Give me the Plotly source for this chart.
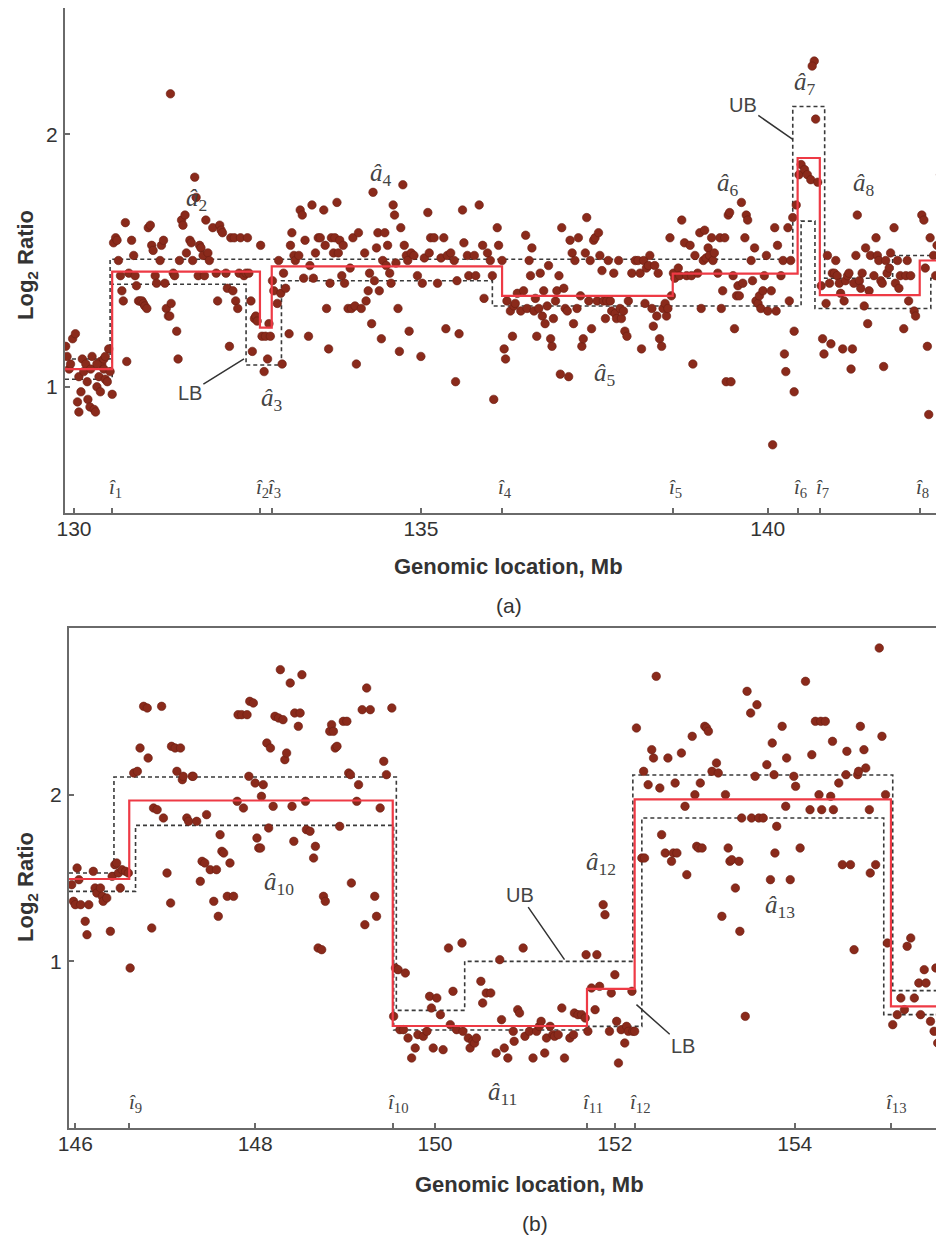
import plotly.graph_objects as go

# ---------------- Panel (a) measured points: (genomic location Mb, log2 ratio) ----------------
a_seg1 = [(129.88,1.16),(129.90,1.12),(129.93,1.07),(129.95,1.09),(129.98,1.19),(130.02,1.21),(130.05,0.94),
          (130.07,0.90),(130.07,1.04),(130.10,0.98),(130.12,1.11),(130.14,1.06),(130.17,1.09),(130.19,1.02),
          (130.20,0.95),(130.23,0.92),(130.24,1.07),(130.26,1.12),(130.29,0.91),(130.31,0.90),(130.33,1.00),
          (130.36,1.04),(130.38,1.10),(130.40,1.09),(130.43,1.07),(130.45,1.03),(130.48,1.02),(130.50,1.15),
          (130.52,1.06),(130.55,0.97),(130.43,1.11),(130.33,1.09),(130.38,0.98),(130.45,1.12)]
a_seg2 = [(130.57,1.57),(130.60,1.59),(130.62,1.58),(130.64,1.50),(130.67,1.44),(130.69,1.38),(130.71,1.34),
          (130.74,1.65),(130.76,1.10),(130.79,1.45),(130.83,1.58),(130.86,1.52),(130.88,1.44),(130.90,1.40),
          (130.93,1.34),(130.95,1.34),(130.98,1.34),(131.00,1.33),(131.02,1.32),(131.05,1.31),(131.07,1.63),
          (131.10,1.64),(131.12,1.56),(131.14,1.54),(131.17,1.44),(131.19,1.41),(131.24,1.50),(131.26,1.56),
          (131.29,1.58),(131.31,1.41),(131.33,1.31),(131.36,1.28),(131.38,1.28),(131.40,1.33),(131.43,1.45),
          (131.45,1.44),(131.48,1.22),(131.50,1.11),(131.52,1.50),(131.55,1.66),(131.57,1.64),(131.60,1.68),
          (131.62,1.53),(131.67,1.58),(131.69,1.57),(131.71,1.50),(131.74,1.83),(131.76,1.75),(131.79,1.44),
          (131.81,1.56),(131.83,1.55),(131.86,1.52),(131.88,1.44),(131.90,1.66),(131.93,1.53),(131.95,1.50),
          (132.00,1.63),(132.05,1.45),(132.07,1.34),(132.10,1.64),(132.12,1.62),(132.14,1.61),(132.19,1.45),
          (132.21,1.39),(132.24,1.16),(132.26,1.59),(132.29,1.38),(132.31,1.59),(132.33,1.34),(132.36,1.31),
          (132.38,1.45),(132.40,1.59),(132.45,1.44),(132.48,1.45),(132.50,1.59),(132.52,1.45),(132.55,1.34),
          (132.57,1.14),(132.60,1.27),(132.62,1.28),(131.39,2.16)]
a_seg3 = [(132.64,1.26),(132.69,1.56),(132.71,1.20),(132.74,1.06),(132.76,1.20),(132.79,1.11),(132.81,1.25),
          (132.83,1.20)]
a_seg4 = [(132.86,1.42),(132.88,1.38),(132.93,1.33),(132.95,1.50),(132.98,1.37),(133.00,1.09),(133.02,1.45),
          (133.05,1.39),(133.10,1.21),(133.12,1.56),(133.14,1.61),(133.17,1.52),(133.19,1.50),(133.24,1.52),
          (133.26,1.70),(133.29,1.68),(133.31,1.43),(133.33,1.58),(133.38,1.20),(133.40,1.48),(133.43,1.72),
          (133.45,1.43),(133.48,1.53),(133.52,1.59),(133.55,1.59),(133.60,1.70),(133.62,1.56),(133.64,1.31),
          (133.67,1.15),(133.69,1.41),(133.71,1.59),(133.74,1.53),(133.76,1.59),(133.79,1.73),(133.81,1.53),
          (133.83,1.58),(133.86,1.44),(133.88,1.56),(133.90,1.41),(133.95,1.31),(133.98,1.47),(134.00,1.31),
          (134.02,1.59),(134.05,1.32),(134.07,1.09),(134.10,1.61),(134.14,1.31),(134.19,1.53),(134.21,1.34),
          (134.24,1.38),(134.26,1.45),(134.29,1.25),(134.31,1.77),(134.33,1.42),(134.36,1.55),(134.38,1.61),
          (134.40,1.38),(134.43,1.19),(134.45,1.50),(134.48,1.61),(134.50,1.48),(134.52,1.56),(134.55,1.45),
          (134.57,1.41),(134.60,1.72),(134.62,1.68),(134.64,1.49),(134.67,1.31),(134.69,1.14),(134.71,1.63),
          (134.74,1.80),(134.76,1.56),(134.79,1.52),(134.81,1.50),(134.83,1.22),(134.86,1.53),(134.90,1.52),
          (134.95,1.44),(135.00,1.12),(135.02,1.41),(135.05,1.51),(135.10,1.69),(135.12,1.53),(135.14,1.59),
          (135.19,1.59),(135.24,1.41),(135.29,1.51),(135.33,1.59),(135.36,1.23),(135.38,1.52),(135.43,1.53),
          (135.48,1.50),(135.50,1.02),(135.52,1.42),(135.55,1.21),(135.60,1.70),(135.62,1.57),(135.67,1.52),
          (135.69,1.44),(135.77,1.52),(135.79,1.44),(135.84,1.72),(135.89,1.56),(135.91,1.35),(135.96,1.53),
          (136.00,1.50),(136.03,1.44),(136.05,0.95),(136.10,1.63),(136.12,1.56),(136.17,1.50)]
a_seg5 = [(136.20,1.15),(136.22,1.11),(136.24,1.34),(136.29,1.30),(136.32,1.20),(136.34,1.32),(136.36,1.33),
          (136.39,1.37),(136.44,1.30),(136.48,1.38),(136.51,1.60),(136.53,1.31),(136.56,1.50),(136.58,1.44),
          (136.60,1.55),(136.63,1.30),(136.65,1.35),(136.67,1.20),(136.70,1.31),(136.72,1.45),(136.75,1.28),
          (136.77,1.38),(136.79,1.25),(136.82,1.32),(136.84,1.48),(136.87,1.19),(136.89,1.16),(136.91,1.27),
          (136.94,1.34),(136.96,1.38),(136.99,1.44),(137.01,1.05),(137.03,1.63),(137.06,1.39),(137.08,1.31),
          (137.11,1.30),(137.13,1.04),(137.15,1.58),(137.18,1.53),(137.20,1.25),(137.22,1.50),(137.25,1.31),
          (137.27,1.59),(137.30,1.36),(137.32,1.16),(137.34,1.19),(137.37,1.53),(137.39,1.67),(137.42,1.34),
          (137.44,1.50),(137.46,1.23),(137.49,1.58),(137.51,1.59),(137.54,1.34),(137.56,1.61),(137.58,1.52),
          (137.61,1.46),(137.63,1.34),(137.66,1.27),(137.68,1.34),(137.70,1.50),(137.73,1.34),(137.75,1.30),
          (137.78,1.45),(137.80,1.29),(137.82,1.27),(137.85,1.50),(137.87,1.31),(137.89,1.27),(137.92,1.30),
          (137.94,1.22),(137.97,1.20),(137.99,1.34),(138.04,1.45),(138.09,1.50),(138.13,1.50),(138.16,1.45),
          (138.18,1.15),(138.21,1.50),(138.23,1.33),(138.25,1.47),(138.28,1.48),(138.30,1.52),(138.33,1.31),
          (138.35,1.24),(138.37,1.48),(138.40,1.28),(138.42,1.45),(138.44,1.19),(138.47,1.16),(138.49,1.31),
          (138.52,1.33),(138.54,1.28),(138.56,1.31),(138.59,1.59),(138.61,1.36)]
a_seg6 = [(138.64,1.45),(138.66,1.43),(138.71,1.47),(138.73,1.44),(138.76,1.66),(138.80,1.57),(138.83,1.44),
          (138.88,1.56),(138.90,1.44),(138.92,1.09),(138.95,1.52),(138.99,1.45),(139.02,1.61),(139.04,1.31),
          (139.07,1.50),(139.09,1.62),(139.11,1.51),(139.14,1.55),(139.16,1.52),(139.19,1.59),(139.21,1.50),
          (139.23,1.53),(139.28,1.45),(139.31,1.59),(139.33,1.31),(139.35,1.38),(139.38,1.59),(139.40,1.02),
          (139.43,1.68),(139.45,1.69),(139.47,1.02),(139.50,1.44),(139.52,1.23),(139.55,1.36),(139.57,1.40),
          (139.59,1.36),(139.62,1.73),(139.64,1.41),(139.67,1.59),(139.69,1.68),(139.71,1.66),(139.76,1.50),
          (139.78,1.42),(139.81,1.55),(139.83,1.34),(139.86,1.33),(139.88,1.36),(139.90,1.31),(139.93,1.38),
          (139.95,1.44),(139.98,1.52),(140.00,1.30),(140.05,1.38),(140.07,0.77),(140.10,1.63),(140.12,1.30),
          (140.14,1.56),(140.19,1.44),(140.22,1.50),(140.24,1.13),(140.26,1.06),(140.29,1.63),(140.31,1.34),
          (140.33,1.50),(140.36,1.67),(140.38,0.98),(140.38,1.22),(140.41,1.72)]
a_seg7 = [(140.45,1.84),(140.48,1.88),(140.53,1.86),(140.57,1.84),(140.62,1.82),(140.69,2.06),(140.67,2.29),
          (140.64,2.27),(140.72,1.81)]
a_seg8 = [(140.77,1.40),(140.79,1.19),(140.81,1.13),(140.84,1.33),(140.86,1.52),(140.89,1.41),(140.91,1.17),
          (140.93,1.45),(140.96,1.45),(140.98,1.50),(141.00,1.44),(141.03,1.41),(141.05,1.37),(141.08,1.15),
          (141.10,1.34),(141.12,1.42),(141.15,1.44),(141.17,1.45),(141.20,1.07),(141.22,1.15),(141.24,1.41),
          (141.27,1.52),(141.29,1.68),(141.32,1.42),(141.34,1.39),(141.36,1.45),(141.39,1.32),(141.41,1.55),
          (141.44,1.25),(141.46,1.38),(141.48,1.52),(141.53,1.44),(141.56,1.59),(141.58,1.52),(141.60,1.50),
          (141.63,1.42),(141.65,1.41),(141.67,1.08),(141.70,1.50),(141.72,1.45),(141.75,1.47),(141.77,1.53),
          (141.82,1.63),(141.84,1.41),(141.87,1.50),(141.89,1.39),(141.91,1.44),(141.96,1.23),(141.99,1.44),
          (142.01,1.50),(142.03,1.34),(142.06,1.44),(142.11,1.30),(142.13,1.28)]
a_seg9 = [(142.22,1.68),(142.25,1.66),(142.27,1.47),(142.30,1.16),(142.32,0.89),(142.34,1.59),(142.39,1.52),
          (142.42,1.44),(142.44,1.56),(142.49,1.84),(142.51,1.66)]

# segment means (red) and confidence bounds (dotted), panel (a)
a_edges = [129.87, 130.55, 132.68, 132.85, 136.17, 138.63, 140.43, 140.75, 142.19, 142.54]
a_levels = [1.07, 1.456, 1.234, 1.477, 1.36, 1.448, 1.906, 1.3625, 1.50]
a_ub_edges = [129.87, 130.52, 140.36, 140.82, 141.80, 142.54]
a_ub_levels = [1.11, 1.505, 2.11, 1.43, 1.52]
a_lb_edges = [129.87, 130.55, 132.48, 132.99, 136.03, 140.48, 140.68, 142.35, 142.54]
a_lb_levels = [1.03, 1.406, 1.086, 1.42, 1.32, 1.656, 1.31, 1.43]
a_breaks = [130.55, 132.68, 132.85, 136.17, 138.63, 140.43, 140.75, 142.19]
a_break_names = ["1", "2", "3", "4", "5", "6", "7", "8"]
a_hat_names = ["2", "3", "4", "5", "6", "7", "8"]
a_hat_x = [131.76, 132.86, 134.43, 137.66, 139.43, 140.53, 141.39]
a_hat_y = [1.74, 0.95, 1.84, 1.05, 1.80, 2.20, 1.80]

# ---------------- Panel (b) ----------------
b_seg9 = [(145.96,1.46),(145.98,1.36),(146.00,1.34),(146.02,1.56),(146.04,1.49),(146.06,1.34),(146.11,1.24),
          (146.13,1.16),(146.15,1.34),(146.20,1.54),(146.22,1.44),(146.24,1.41),(146.28,1.44),(146.30,1.39),
          (146.31,1.36),(146.35,1.38),(146.39,1.18),(146.41,1.51),(146.44,1.58),(146.46,1.59),(146.48,1.53),
          (146.50,1.44),(146.52,1.55),(146.56,1.54),(146.59,1.53),(146.61,0.96)]
b_seg10 = [(146.65,2.13),(146.69,2.14),(146.72,2.28),(146.76,2.53),(146.80,2.52),(146.81,2.22),(146.85,1.20),
           (146.87,1.92),(146.91,1.91),(146.96,2.53),(146.98,1.86),(147.02,1.53),(147.06,1.35),(147.07,2.29),
           (147.11,2.28),(147.13,2.14),(147.17,2.28),(147.19,2.09),(147.20,2.11),(147.24,1.86),(147.26,1.84),
           (147.30,2.11),(147.31,2.11),(147.35,1.84),(147.39,1.48),(147.41,1.60),(147.44,1.59),(147.46,1.88),
           (147.50,1.55),(147.54,1.36),(147.57,1.55),(147.59,1.27),(147.61,1.76),(147.63,1.66),(147.65,1.65),
           (147.69,1.39),(147.72,1.59),(147.76,1.39),(147.80,1.96),(147.81,2.48),(147.85,2.48),(147.87,1.92),
           (147.91,2.48),(147.93,2.11),(147.94,2.56),(147.98,2.55),(148.00,2.07),(148.02,1.74),(148.04,1.68),
           (148.06,1.68),(148.07,1.99),(148.09,2.06),(148.13,2.31),(148.15,1.80),(148.17,2.28),(148.20,1.93),
           (148.22,2.47),(148.26,2.46),(148.28,2.75),(148.31,2.45),(148.33,2.21),(148.35,2.25),(148.39,2.67),
           (148.41,1.93),(148.43,1.72),(148.44,2.49),(148.48,2.41),(148.50,2.49),(148.52,2.72),(148.56,1.96),
           (148.57,1.79),(148.61,1.78),(148.65,1.62),(148.67,1.69),(148.70,1.08),(148.74,1.07),(148.76,1.39),
           (148.78,1.36),(148.83,2.38),(148.85,2.42),(148.87,2.38),(148.89,2.28),(148.91,2.29),(148.94,1.81),
           (148.98,2.44),(149.02,2.44),(149.04,2.13),(149.06,2.12),(149.07,1.47),(149.13,1.96),(149.15,2.06),
           (149.19,2.51),(149.22,1.22),(149.24,2.64),(149.28,2.51),(149.33,1.39),(149.35,1.27),(149.39,1.92),
           (149.43,2.20),(149.46,2.12),(149.52,2.52)]
b_seg11 = [(149.54,0.67),(149.56,0.96),(149.59,0.95),(149.61,0.59),(149.65,0.59),(149.67,0.93),(149.70,0.54),
           (149.74,0.42),(149.78,0.48),(149.81,0.56),(149.87,0.55),(149.91,0.58),(149.94,0.79),(149.96,0.72),
           (149.98,0.48),(150.02,0.78),(150.06,0.68),(150.09,0.47),(150.15,1.08),(150.17,0.62),(150.20,0.82),
           (150.24,0.59),(150.30,1.11),(150.31,0.58),(150.37,0.54),(150.39,0.48),(150.42,0.52),(150.44,0.51),
           (150.46,0.54),(150.51,0.88),(150.53,0.75),(150.57,0.81),(150.62,0.81),(150.68,0.45),(150.72,1.01),
           (150.74,0.65),(150.77,0.48),(150.81,0.42),(150.87,0.58),(150.88,0.52),(150.92,0.71),(150.94,0.69),
           (150.98,1.08),(151.00,0.55),(151.05,0.58),(151.09,0.42),(151.13,0.58),(151.16,0.61),(151.18,0.64),
           (151.22,0.45),(151.24,0.54),(151.28,0.61),(151.31,0.56),(151.33,0.55),(151.37,0.56),(151.41,0.72),
           (151.44,0.42),(151.50,0.54),(151.54,0.56),(151.55,0.69),(151.59,0.68),(151.63,0.68),(151.67,0.66)]
b_seg12 = [(151.68,1.04),(151.70,0.58),(151.74,0.84),(151.78,0.71),(151.80,1.04),(151.83,0.85),(151.87,1.34),
           (151.89,1.28),(151.94,0.58),(151.96,0.81),(152.00,0.92),(152.02,0.64),(152.04,0.39),(152.07,0.59),
           (152.11,0.51),(152.13,0.61),(152.15,0.58),(152.19,0.82),(152.20,0.58),(152.22,0.58)]
b_seg13 = [(152.24,2.40),(152.30,1.62),(152.32,2.14),(152.33,1.62),(152.37,2.06),(152.41,2.27),(152.43,2.22),
           (152.46,2.71),(152.50,2.04),(152.52,1.76),(152.56,1.65),(152.59,2.22),(152.63,1.60),(152.65,1.65),
           (152.67,2.07),(152.69,1.65),(152.74,2.25),(152.78,1.93),(152.80,1.52),(152.86,2.35),(152.89,2.00),
           (152.91,1.69),(152.93,1.68),(152.95,2.07),(152.97,1.68),(153.00,2.41),(153.02,2.40),(153.04,2.38),
           (153.08,2.14),(153.13,2.19),(153.15,2.13),(153.19,1.27),(153.23,2.00),(153.26,1.68),(153.28,1.60),
           (153.30,1.61),(153.34,1.44),(153.38,1.60),(153.39,1.18),(153.41,1.86),(153.45,0.67),(153.47,2.62),
           (153.51,2.49),(153.52,1.86),(153.56,2.11),(153.58,2.54),(153.60,1.86),(153.65,1.86),(153.69,2.18),
           (153.73,1.49),(153.75,2.31),(153.77,2.12),(153.78,1.65),(153.80,1.81),(153.86,2.41),(153.90,1.93),
           (153.91,2.22),(153.95,1.49),(153.99,2.11),(154.01,2.05),(154.06,1.68),(154.12,2.68),(154.17,1.91),
           (154.19,2.24),(154.23,2.44),(154.27,2.00),(154.29,2.44),(154.30,1.91),(154.34,2.44),(154.40,1.99),
           (154.42,2.32),(154.43,1.91),(154.49,2.07),(154.53,1.58),(154.57,2.12),(154.58,2.26),(154.62,1.58),
           (154.66,1.07),(154.70,2.12),(154.71,2.14),(154.73,2.41),(154.77,2.27),(154.79,2.16),(154.83,1.91),
           (154.84,1.53),(154.90,1.58),(154.94,2.88),(154.97,2.35),(155.01,2.00)]
b_seg14 = [(155.03,1.11),(155.09,0.62),(155.14,0.68),(155.18,0.78),(155.22,0.71),(155.25,1.09),(155.29,1.14),
           (155.33,0.78),(155.38,0.87),(155.40,0.68),(155.44,0.95),(155.46,0.87),(155.51,0.64),(155.55,0.58),
           (155.57,0.96),(155.59,0.51),(155.62,0.68),(155.64,0.62),(155.66,0.72)]

b_edges = [145.93, 146.60, 149.53, 151.69, 152.22, 155.07, 155.70]
b_levels = [1.494, 1.965, 0.612, 0.835, 1.972, 0.73]
b_ub_edges = [145.93, 146.43, 149.57, 150.33, 152.20, 155.09, 155.70]
b_ub_levels = [1.53, 2.106, 0.706, 1.00, 2.118, 0.824]
b_lb_edges = [145.93, 146.67, 149.54, 151.67, 152.30, 154.99, 155.70]
b_lb_levels = [1.42, 1.816, 0.588, 0.61, 1.86, 0.68]
b_breaks = [146.60, 149.53, 151.69, 152.22, 155.07]
b_break_names = ["9", "10", "11", "12", "13"]
b_hat_names = ["10", "11", "12", "13"]
b_hat_x = [148.26, 150.75, 151.85, 153.84]
b_hat_y = [1.47, 0.21, 1.59, 1.33]

DOT = "#8a2a1b"
RED = "#ee3a45"
BND = "#3a3a3a"
AX = "#6a6a6a"

fig = go.Figure()


def add_panel(segs, edges, levels, ub_e, ub_l, lb_e, lb_l, xa, ya):
    for e, l in ((ub_e, ub_l), (lb_e, lb_l)):
        fig.add_trace(go.Scatter(x=e, y=l + [l[-1]], mode="lines", line_shape="hv",
                                 line=dict(color=BND, width=1.6, dash="4px,3px"),
                                 xaxis=xa, yaxis=ya, showlegend=False, hoverinfo="skip"))
    xs, ys = [], []
    for s in segs:
        xs += [p[0] for p in s]
        ys += [p[1] for p in s]
    fig.add_trace(go.Scatter(x=xs, y=ys, mode="markers",
                             marker=dict(size=8.5, color=DOT, line=dict(width=0.6, color="#6b1e12")),
                             xaxis=xa, yaxis=ya, showlegend=False))
    fig.add_trace(go.Scatter(x=edges, y=levels + [levels[-1]], mode="lines", line_shape="hv",
                             line=dict(color=RED, width=2.2), xaxis=xa, yaxis=ya, showlegend=False))


add_panel([a_seg1, a_seg2, a_seg3, a_seg4, a_seg5, a_seg6, a_seg7, a_seg8, a_seg9],
          a_edges, a_levels, a_ub_edges, a_ub_levels, a_lb_edges, a_lb_levels, "x", "y")
add_panel([b_seg9, b_seg10, b_seg11, b_seg12, b_seg13, b_seg14],
          b_edges, b_levels, b_ub_edges, b_ub_levels, b_lb_edges, b_lb_levels, "x2", "y2")

# the page body adds an 8 px margin; the figure is sized so it ends at the window edge
OFF = 8
W, H = 944 - OFF, 1241 - OFF


def px(v):
    return (v - OFF) / W


def py(v):
    return 1 - (v - OFF) / H


tickfont = dict(family="Liberation Sans, Arial, sans-serif", size=21, color="#333")
common = dict(showline=True, linecolor=AX, linewidth=2, ticks="inside", ticklen=5, tickwidth=1.5,
              tickcolor=AX, showgrid=False, zeroline=False, tickfont=tickfont, automargin=False)
minor_style = dict(ticks="inside", ticklen=5, tickwidth=1.5, tickcolor=AX, showgrid=False)

a_main = [130, 135, 140]
b_main = [146, 148, 150, 152, 154]
fig.update_layout(
    width=W, height=H, margin=dict(l=0, r=0, t=0, b=0, autoexpand=False),
    paper_bgcolor="white", plot_bgcolor="white",
    xaxis=dict(domain=[px(65), 1], range=[129.87, 142.54], mirror=True, ticklabelstandoff=-4,
               tickvals=a_main, minor=dict(tickvals=a_breaks, **minor_style), anchor="y", **common),
    yaxis=dict(domain=[py(513), py(8)], range=[0.5, 2.5], tickvals=[1, 2], anchor="x",
               ticklabelstandoff=1, **common),
    xaxis2=dict(domain=[px(69), 1], range=[145.93, 155.66], mirror=True, ticklabelstandoff=-4,
                tickvals=b_main, minor=dict(tickvals=b_breaks, **minor_style), anchor="y2", **common),
    yaxis2=dict(domain=[py(1128), py(628)], range=[0, 3], tickvals=[1, 2], anchor="x2",
                ticklabelstandoff=1, **common),
)

serif = dict(family="Liberation Serif, DejaVu Serif, serif", size=25, color="#444")
serif_i = dict(family="Liberation Serif, DejaVu Serif, serif", size=21, color="#444")
C = dict(xanchor="center", yanchor="middle", showarrow=False)
ann = []
for bx, nm in zip(a_breaks, a_break_names):
    ann.append(dict(x=bx, y=0.6, xref="x", yref="y", text="<i>î</i><sub>%s</sub>" % nm,
                    font=serif_i, xshift=3, **C))
for hx, hy, nm in zip(a_hat_x, a_hat_y, a_hat_names):
    ann.append(dict(x=hx, y=hy, xref="x", yref="y", text="<i>â</i><sub>%s</sub>" % nm, font=serif, **C))
for bx, nm in zip(b_breaks, b_break_names):
    ann.append(dict(x=bx, y=0.15, xref="x2", yref="y2", text="<i>î</i><sub>%s</sub>" % nm,
                    font=serif_i, xshift=6, **C))
for hx, hy, nm in zip(b_hat_x, b_hat_y, b_hat_names):
    ann.append(dict(x=hx, y=hy, xref="x2", yref="y2", text="<i>â</i><sub>%s</sub>" % nm, font=serif, **C))

lbl = dict(family="Liberation Sans, Arial, sans-serif", size=20, color="#444")
# LB / UB callouts
ann.append(dict(x=132.45, y=1.11, xref="x", yref="y", ax=131.67, ay=0.977, axref="x", ayref="y",
                text="LB", showarrow=True, arrowhead=0, arrowwidth=1.5, arrowcolor="#333", font=lbl))
ann.append(dict(x=140.36, y=1.98, xref="x", yref="y", ax=139.64, ay=2.117, axref="x", ayref="y",
                text="UB", showarrow=True, arrowhead=0, arrowwidth=1.5, arrowcolor="#333", font=lbl))
ann.append(dict(x=151.44, y=1.01, xref="x2", yref="y2", ax=150.94, ay=1.40, axref="x2", ayref="y2",
                text="UB", showarrow=True, arrowhead=0, arrowwidth=1.5, arrowcolor="#333", font=lbl))
ann.append(dict(x=152.24, y=0.74, xref="x2", yref="y2", ax=152.76, ay=0.49, axref="x2", ayref="y2",
                text="LB", showarrow=True, arrowhead=0, arrowwidth=1.5, arrowcolor="#333", font=lbl))

title_font = dict(family="Liberation Sans, Arial, sans-serif", size=22, color="#333")
cap_font = dict(family="Liberation Sans, Arial, sans-serif", size=21, color="#333")
ann += [
    dict(x=px(508), y=py(567), xref="paper", yref="paper", text="<b>Genomic location, Mb</b>",
         font=title_font, **C),
    dict(x=px(509), y=py(605), xref="paper", yref="paper", text="(a)", font=cap_font, **C),
    dict(x=px(27), y=py(265), xref="paper", yref="paper", text="<b>Log<sub>2</sub> Ratio</b>",
         textangle=-90, font=title_font, **C),
    dict(x=px(529), y=py(1184), xref="paper", yref="paper", text="<b>Genomic location, Mb</b>",
         font=title_font, **C),
    dict(x=px(535), y=py(1223), xref="paper", yref="paper", text="(b)", font=cap_font, **C),
    dict(x=px(27), y=py(887), xref="paper", yref="paper", text="<b>Log<sub>2</sub> Ratio</b>",
         textangle=-90, font=title_font, **C),
]
fig.update_layout(annotations=ann)

fig.write_html("out.html")
